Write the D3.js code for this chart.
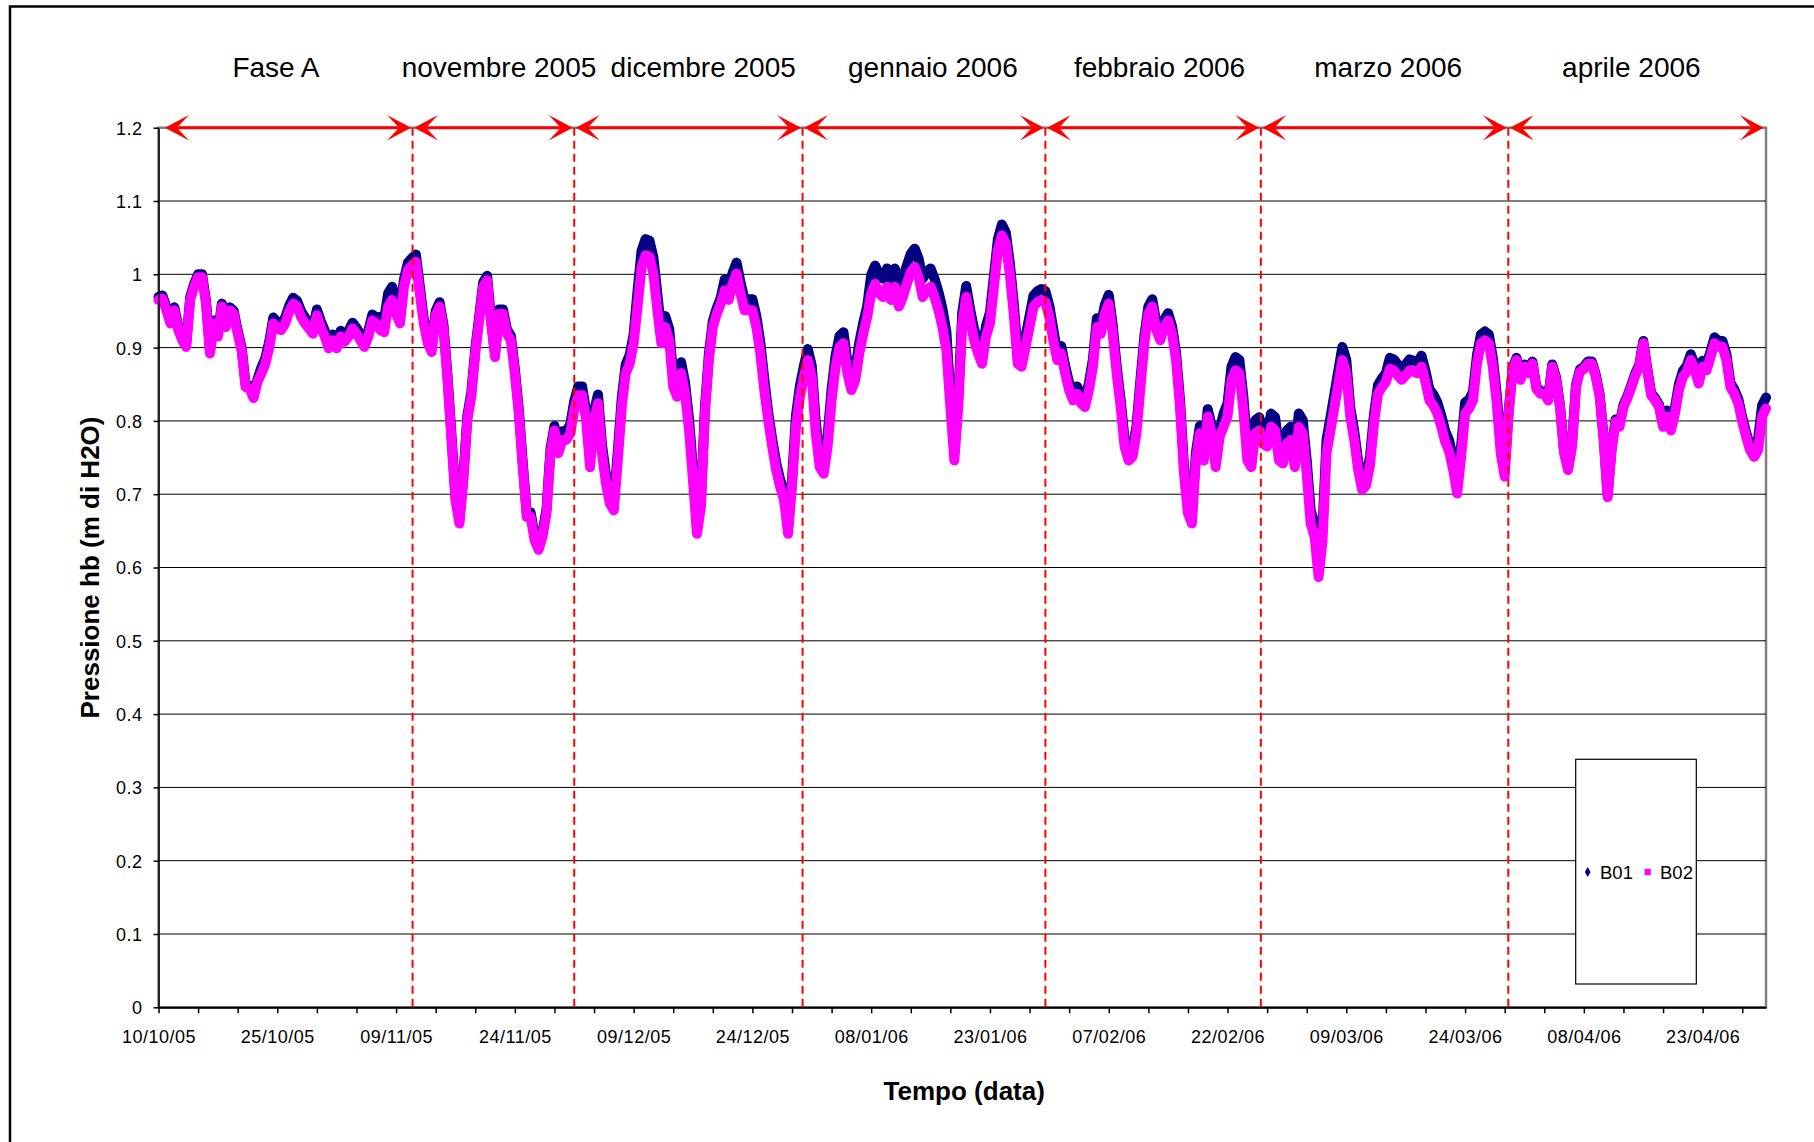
<!DOCTYPE html>
<html>
<head>
<meta charset="utf-8">
<title>Pressione hb - B01 / B02</title>
<script src="https://d3js.org/d3.v7.min.js"></script>
<style>
  body { margin: 0; background: #fff; }
  svg text { font-family: "Liberation Sans", Arial, sans-serif; fill: #000; }
</style>
</head>
<body>
<svg id="chart" width="1814" height="1142"></svg>
<script>

// letture ogni 12 ore dal 10/10/2005
var sampleStart = "2005-10-10T00:00:00Z";
var sampleHours = 12;

var seriesNames = ["B01", "B02"];

var b01 = [
  0.969, 0.971, 0.955, 0.937, 0.955, 0.928, 0.914, 0.905, 0.969, 0.987,
  1.000, 1.000, 0.964, 0.896, 0.937, 0.919, 0.960, 0.932, 0.955, 0.950,
  0.923, 0.900, 0.850, 0.848, 0.835, 0.857, 0.873, 0.886, 0.909, 0.941,
  0.934, 0.932, 0.941, 0.957, 0.968, 0.964, 0.950, 0.941, 0.934, 0.927,
  0.952, 0.936, 0.923, 0.907, 0.918, 0.907, 0.923, 0.916, 0.923, 0.934,
  0.927, 0.918, 0.909, 0.923, 0.945, 0.941, 0.942, 0.939, 0.974, 0.983,
  0.964, 0.951, 0.993, 1.016, 1.022, 1.027, 0.984, 0.939, 0.912, 0.900,
  0.950, 0.962, 0.930, 0.862, 0.780, 0.698, 0.666, 0.725, 0.807, 0.839,
  0.898, 0.943, 0.989, 0.998, 0.939, 0.893, 0.952, 0.952, 0.925, 0.916,
  0.871, 0.816, 0.743, 0.675, 0.675, 0.643, 0.630, 0.648, 0.680, 0.762,
  0.793, 0.762, 0.786, 0.786, 0.795, 0.827, 0.847, 0.847, 0.813, 0.749,
  0.813, 0.836, 0.768, 0.727, 0.699, 0.690, 0.758, 0.831, 0.877, 0.890,
  0.918, 0.978, 1.032, 1.048, 1.046, 1.023, 0.973, 0.921, 0.943, 0.925,
  0.861, 0.848, 0.880, 0.852, 0.802, 0.734, 0.654, 0.691, 0.818, 0.891,
  0.936, 0.954, 0.968, 0.993, 0.980, 1.002, 1.016, 0.989, 0.966, 0.966,
  0.966, 0.943, 0.907, 0.857, 0.811, 0.775, 0.743, 0.720, 0.702, 0.656,
  0.720, 0.807, 0.848, 0.875, 0.898, 0.875, 0.798, 0.752, 0.743, 0.780,
  0.843, 0.889, 0.916, 0.921, 0.880, 0.857, 0.871, 0.907, 0.934, 0.957,
  0.999, 1.012, 0.999, 0.994, 1.008, 0.990, 1.008, 0.981, 0.994, 1.012,
  1.028, 1.035, 1.021, 0.994, 1.003, 1.008, 0.994, 0.976, 0.953, 0.921,
  0.834, 0.761, 0.834, 0.948, 0.984, 0.952, 0.925, 0.907, 0.893, 0.930,
  0.948, 0.998, 1.048, 1.068, 1.057, 1.016, 0.961, 0.893, 0.889, 0.916,
  0.943, 0.971, 0.977, 0.980, 0.977, 0.957, 0.925, 0.893, 0.902, 0.875,
  0.852, 0.838, 0.847, 0.834, 0.829, 0.852, 0.884, 0.940, 0.931, 0.958,
  0.972, 0.931, 0.875, 0.829, 0.775, 0.756, 0.761, 0.793, 0.856, 0.916,
  0.956, 0.966, 0.934, 0.920, 0.938, 0.947, 0.929, 0.893, 0.829, 0.738,
  0.684, 0.670, 0.756, 0.793, 0.756, 0.816, 0.793, 0.747, 0.788, 0.810,
  0.824, 0.874, 0.887, 0.883, 0.833, 0.764, 0.755, 0.801, 0.805, 0.787,
  0.783, 0.810, 0.805, 0.764, 0.760, 0.787, 0.792, 0.755, 0.810, 0.801,
  0.746, 0.678, 0.660, 0.605, 0.655, 0.774, 0.805, 0.837, 0.869, 0.901,
  0.883, 0.818, 0.786, 0.745, 0.718, 0.724, 0.752, 0.809, 0.849, 0.858,
  0.865, 0.886, 0.884, 0.877, 0.871, 0.877, 0.884, 0.882, 0.880, 0.889,
  0.868, 0.843, 0.836, 0.825, 0.807, 0.786, 0.773, 0.748, 0.716, 0.766,
  0.825, 0.829, 0.840, 0.890, 0.918, 0.922, 0.918, 0.886, 0.836, 0.768,
  0.736, 0.813, 0.872, 0.886, 0.859, 0.877, 0.868, 0.881, 0.847, 0.840,
  0.840, 0.831, 0.877, 0.859, 0.820, 0.759, 0.736, 0.768, 0.849, 0.870,
  0.874, 0.881, 0.881, 0.863, 0.836, 0.777, 0.699, 0.763, 0.802, 0.795,
  0.822, 0.834, 0.849, 0.865, 0.877, 0.909, 0.872, 0.838, 0.831, 0.822,
  0.795, 0.814, 0.795, 0.818, 0.850, 0.868, 0.875, 0.891, 0.877, 0.859,
  0.882, 0.877, 0.895, 0.914, 0.909, 0.909, 0.891, 0.852, 0.843, 0.830,
  0.805, 0.784, 0.766, 0.757, 0.775, 0.821, 0.832
];

var b02 = [
  0.965, 0.967, 0.951, 0.933, 0.951, 0.924, 0.910, 0.901, 0.965, 0.983,
  0.996, 0.996, 0.960, 0.892, 0.933, 0.915, 0.956, 0.928, 0.951, 0.946,
  0.919, 0.896, 0.846, 0.844, 0.831, 0.853, 0.865, 0.878, 0.901, 0.933,
  0.926, 0.924, 0.933, 0.949, 0.960, 0.956, 0.942, 0.933, 0.926, 0.919,
  0.944, 0.928, 0.915, 0.899, 0.910, 0.899, 0.915, 0.908, 0.915, 0.926,
  0.919, 0.910, 0.901, 0.915, 0.937, 0.933, 0.924, 0.921, 0.956, 0.965,
  0.946, 0.933, 0.983, 1.006, 1.012, 1.017, 0.974, 0.933, 0.906, 0.894,
  0.944, 0.956, 0.924, 0.856, 0.774, 0.692, 0.660, 0.719, 0.801, 0.833,
  0.892, 0.937, 0.983, 0.992, 0.933, 0.887, 0.946, 0.946, 0.919, 0.910,
  0.865, 0.810, 0.737, 0.669, 0.669, 0.637, 0.624, 0.642, 0.674, 0.756,
  0.787, 0.756, 0.774, 0.774, 0.783, 0.815, 0.835, 0.835, 0.801, 0.737,
  0.801, 0.824, 0.756, 0.715, 0.687, 0.678, 0.746, 0.819, 0.865, 0.878,
  0.906, 0.956, 1.010, 1.026, 1.024, 1.001, 0.951, 0.906, 0.928, 0.910,
  0.846, 0.833, 0.865, 0.837, 0.787, 0.719, 0.646, 0.683, 0.810, 0.883,
  0.928, 0.946, 0.960, 0.978, 0.965, 0.987, 1.001, 0.974, 0.951, 0.951,
  0.951, 0.928, 0.892, 0.842, 0.801, 0.765, 0.733, 0.710, 0.692, 0.646,
  0.710, 0.792, 0.833, 0.860, 0.883, 0.860, 0.783, 0.737, 0.728, 0.765,
  0.828, 0.874, 0.901, 0.906, 0.865, 0.842, 0.856, 0.892, 0.919, 0.942,
  0.974, 0.987, 0.974, 0.969, 0.983, 0.965, 0.983, 0.956, 0.969, 0.987,
  1.003, 1.010, 0.996, 0.969, 0.978, 0.983, 0.969, 0.951, 0.928, 0.896,
  0.819, 0.746, 0.819, 0.933, 0.969, 0.937, 0.910, 0.892, 0.878, 0.915,
  0.933, 0.983, 1.033, 1.053, 1.042, 1.001, 0.946, 0.878, 0.874, 0.901,
  0.928, 0.956, 0.962, 0.965, 0.962, 0.942, 0.910, 0.883, 0.892, 0.865,
  0.842, 0.828, 0.837, 0.824, 0.819, 0.842, 0.874, 0.928, 0.919, 0.946,
  0.960, 0.919, 0.865, 0.819, 0.765, 0.746, 0.751, 0.783, 0.846, 0.906,
  0.946, 0.956, 0.924, 0.910, 0.928, 0.937, 0.919, 0.883, 0.819, 0.728,
  0.674, 0.660, 0.746, 0.783, 0.746, 0.806, 0.783, 0.737, 0.778, 0.792,
  0.806, 0.856, 0.869, 0.865, 0.815, 0.746, 0.737, 0.783, 0.787, 0.769,
  0.765, 0.792, 0.787, 0.746, 0.742, 0.769, 0.774, 0.737, 0.792, 0.783,
  0.728, 0.660, 0.642, 0.587, 0.637, 0.756, 0.787, 0.819, 0.851, 0.883,
  0.865, 0.806, 0.774, 0.733, 0.706, 0.712, 0.740, 0.797, 0.837, 0.846,
  0.853, 0.871, 0.869, 0.862, 0.856, 0.862, 0.869, 0.867, 0.865, 0.874,
  0.853, 0.828, 0.821, 0.810, 0.792, 0.771, 0.758, 0.733, 0.701, 0.751,
  0.810, 0.817, 0.828, 0.878, 0.906, 0.910, 0.906, 0.874, 0.824, 0.756,
  0.724, 0.810, 0.869, 0.883, 0.856, 0.874, 0.865, 0.878, 0.844, 0.837,
  0.837, 0.828, 0.874, 0.856, 0.817, 0.756, 0.733, 0.765, 0.846, 0.867,
  0.871, 0.878, 0.878, 0.860, 0.833, 0.774, 0.696, 0.760, 0.799, 0.792,
  0.819, 0.831, 0.846, 0.862, 0.874, 0.906, 0.869, 0.835, 0.828, 0.819,
  0.792, 0.806, 0.787, 0.810, 0.842, 0.860, 0.867, 0.883, 0.869, 0.851,
  0.874, 0.869, 0.887, 0.906, 0.901, 0.901, 0.883, 0.846, 0.837, 0.824,
  0.799, 0.778, 0.760, 0.751, 0.760, 0.806, 0.817
];

// periodi (frecce rosse) e posizione delle etichette
var phaseLabels = ["Fase A", "novembre 2005", "dicembre 2005", "gennaio 2006",
                   "febbraio 2006", "marzo 2006", "aprile 2006"];
var phaseBounds = ["2005-10-10T15:00:00Z", "2005-11-11T02:00:00Z", "2005-12-01T12:00:00Z",
                   "2005-12-30T08:00:00Z", "2006-01-30T00:00:00Z", "2006-02-26T05:00:00Z",
                   "2006-03-29T11:00:00Z", "2006-04-30T22:00:00Z"];
var phaseLabelAt = ["2005-10-24T20:00:00Z", "2005-11-22T00:00:00Z", "2005-12-17T19:00:00Z",
                    "2006-01-15T19:00:00Z", "2006-02-13T10:00:00Z", "2006-03-14T07:00:00Z",
                    "2006-04-14T00:00:00Z"];

var yTicks = [0, 0.1, 0.2, 0.3, 0.4, 0.5, 0.6, 0.7, 0.8, 0.9, 1, 1.1, 1.2];
var xDomain = ["2005-10-10T00:00:00Z", "2006-05-01T00:00:00Z"];
var xTickDays = 5;
var xLabelEvery = 3;


var parse = d3.isoParse;
var svg = d3.select("#chart");

var plotL = 158.5, plotR = 1766, plotT = 127.7, plotB = 1007.3;

var x = d3.scaleUtc().domain(xDomain.map(parse)).range([plotL, plotR]);
var y = d3.scaleLinear().domain([0, 1.2]).range([plotB, plotT]);

// cornice esterna
svg.append("rect")
    .attr("x", 10).attr("y", 6.5)
    .attr("width", 1900).attr("height", 1300)
    .attr("fill", "none")
    .attr("stroke", "#000")
    .attr("stroke-width", 2.5);

// area del grafico
svg.append("rect")
    .attr("x", plotL).attr("y", plotT)
    .attr("width", plotR - plotL).attr("height", plotB - plotT)
    .attr("fill", "#fff")
    .attr("stroke", "#808080")
    .attr("stroke-width", 2.5);

svg.append("g").selectAll("line")
    .data(yTicks.filter(d => d > 0 && d < 1.2))
    .enter().append("line")
    .attr("x1", plotL).attr("x2", plotR)
    .attr("y1", d => y(d)).attr("y2", d => y(d))
    .attr("stroke", "#000")
    .attr("stroke-width", 1);

// serie
var t0 = parse(sampleStart);
function points(vals) {
    return vals.map(function(v, i) {
        return { t: new Date(+t0 + i * sampleHours * 3600e3), v: v };
    });
}

var line = d3.line()
    .x(d => x(d.t))
    .y(d => y(d.v));

var seriesColors = ["#000080", "#ff00ff"];
[b01, b02].forEach(function(vals, k) {
    svg.append("path")
        .datum(points(vals))
        .attr("d", line)
        .attr("fill", "none")
        .attr("stroke", seriesColors[k])
        .attr("stroke-width", 10)
        .attr("stroke-linejoin", "round")
        .attr("stroke-linecap", "round");
});

// assi
var yAxis = d3.axisLeft(y)
    .tickValues(yTicks)
    .tickSize(5)
    .tickSizeOuter(0)
    .tickPadding(11)
    .tickFormat(d3.format("~g"));

var gy = svg.append("g")
    .attr("transform", "translate(" + plotL + ",0)")
    .call(yAxis)
    .attr("font-size", 18);
gy.select(".domain").attr("stroke", "#000").attr("stroke-width", 1.5);
gy.selectAll(".tick line").attr("stroke", "#000").attr("stroke-width", 1.5);
gy.selectAll(".tick text").attr("letter-spacing", "0.5px").attr("dy", "0.36em");

var fmt = d3.utcFormat("%d/%m/%y");
var xTicks = d3.utcDay.range(x.domain()[0], x.domain()[1], xTickDays);
var xAxis = d3.axisBottom(x)
    .tickValues(xTicks)
    .tickSize(6)
    .tickSizeOuter(0)
    .tickPadding(17)
    .tickFormat((d, i) => i % xLabelEvery === 0 ? fmt(d) : "");

var gx = svg.append("g")
    .attr("transform", "translate(0," + plotB + ")")
    .call(xAxis)
    .attr("font-size", 18);
gx.select(".domain").attr("stroke", "#000").attr("stroke-width", 2);
gx.selectAll(".tick line").attr("stroke", "#000").attr("stroke-width", 1.5);
gx.selectAll(".tick text").attr("letter-spacing", "0.5px");

// linee tratteggiate di separazione
svg.append("g").selectAll("line")
    .data(phaseBounds.slice(1, -1))
    .enter().append("line")
    .attr("x1", d => x(parse(d))).attr("x2", d => x(parse(d)))
    .attr("y1", plotT).attr("y2", plotB + 3)
    .attr("stroke", "#ff0000")
    .attr("stroke-width", 2)
    .attr("stroke-dasharray", "8,5");

// frecce
function head(tx, ty, dir) {
    return "M" + tx + "," + ty +
        "L" + (tx + dir * 24) + "," + (ty - 12.7) +
        "L" + (tx + dir * 12) + "," + ty +
        "L" + (tx + dir * 24) + "," + (ty + 12.7) + "Z";
}

var arrows = svg.append("g");
var ya = y(1.2);
phaseLabels.forEach(function(name, i) {
    var a = x(parse(phaseBounds[i])) + 1.5;
    var b = x(parse(phaseBounds[i + 1])) - 1.5;
    arrows.append("line")
        .attr("x1", a + 10).attr("x2", b - 10)
        .attr("y1", ya).attr("y2", ya)
        .attr("stroke", "#ff0000")
        .attr("stroke-width", 3);
    arrows.append("path").attr("d", head(a, ya, 1)).attr("fill", "#ff0000");
    arrows.append("path").attr("d", head(b, ya, -1)).attr("fill", "#ff0000");
});

svg.append("g").selectAll("text")
    .data(phaseLabels)
    .enter().append("text")
    .attr("x", (d, i) => x(parse(phaseLabelAt[i])))
    .attr("y", 77)
    .attr("text-anchor", "middle")
    .attr("font-size", 28)
    .text(d => d);

// titoli
svg.append("text")
    .attr("transform", "translate(90," + ((plotT + plotB) / 2) + ") rotate(-90)")
    .attr("text-anchor", "middle")
    .attr("dominant-baseline", "central")
    .attr("font-size", 26)
    .attr("font-weight", "bold")
    .text("Pressione hb (m di H2O)");

svg.append("text")
    .attr("x", (plotL + plotR) / 2 + 2)
    .attr("y", 1100)
    .attr("text-anchor", "middle")
    .attr("font-size", 26)
    .attr("font-weight", "bold")
    .text("Tempo (data)");

// legenda
var lg = svg.append("g");
lg.append("rect")
    .attr("x", 1575.7).attr("y", 759.3)
    .attr("width", 120.6).attr("height", 224.7)
    .attr("fill", "#fff")
    .attr("stroke", "#000")
    .attr("stroke-width", 1.2);

var symbols = [d3.symbolDiamond, d3.symbolSquare];
var symSize = [30, 40];
seriesNames.forEach(function(name, k) {
    var sx = 1587.7 + k * 60;
    lg.append("path")
        .attr("d", d3.symbol().type(symbols[k]).size(symSize[k]))
        .attr("transform", "translate(" + sx + ",872)")
        .attr("fill", seriesColors[k]);
    lg.append("text")
        .attr("x", sx + 12.3)
        .attr("y", 878.5)
        .attr("font-size", 18.5)
        .text(name);
});

</script>
</body>
</html>
